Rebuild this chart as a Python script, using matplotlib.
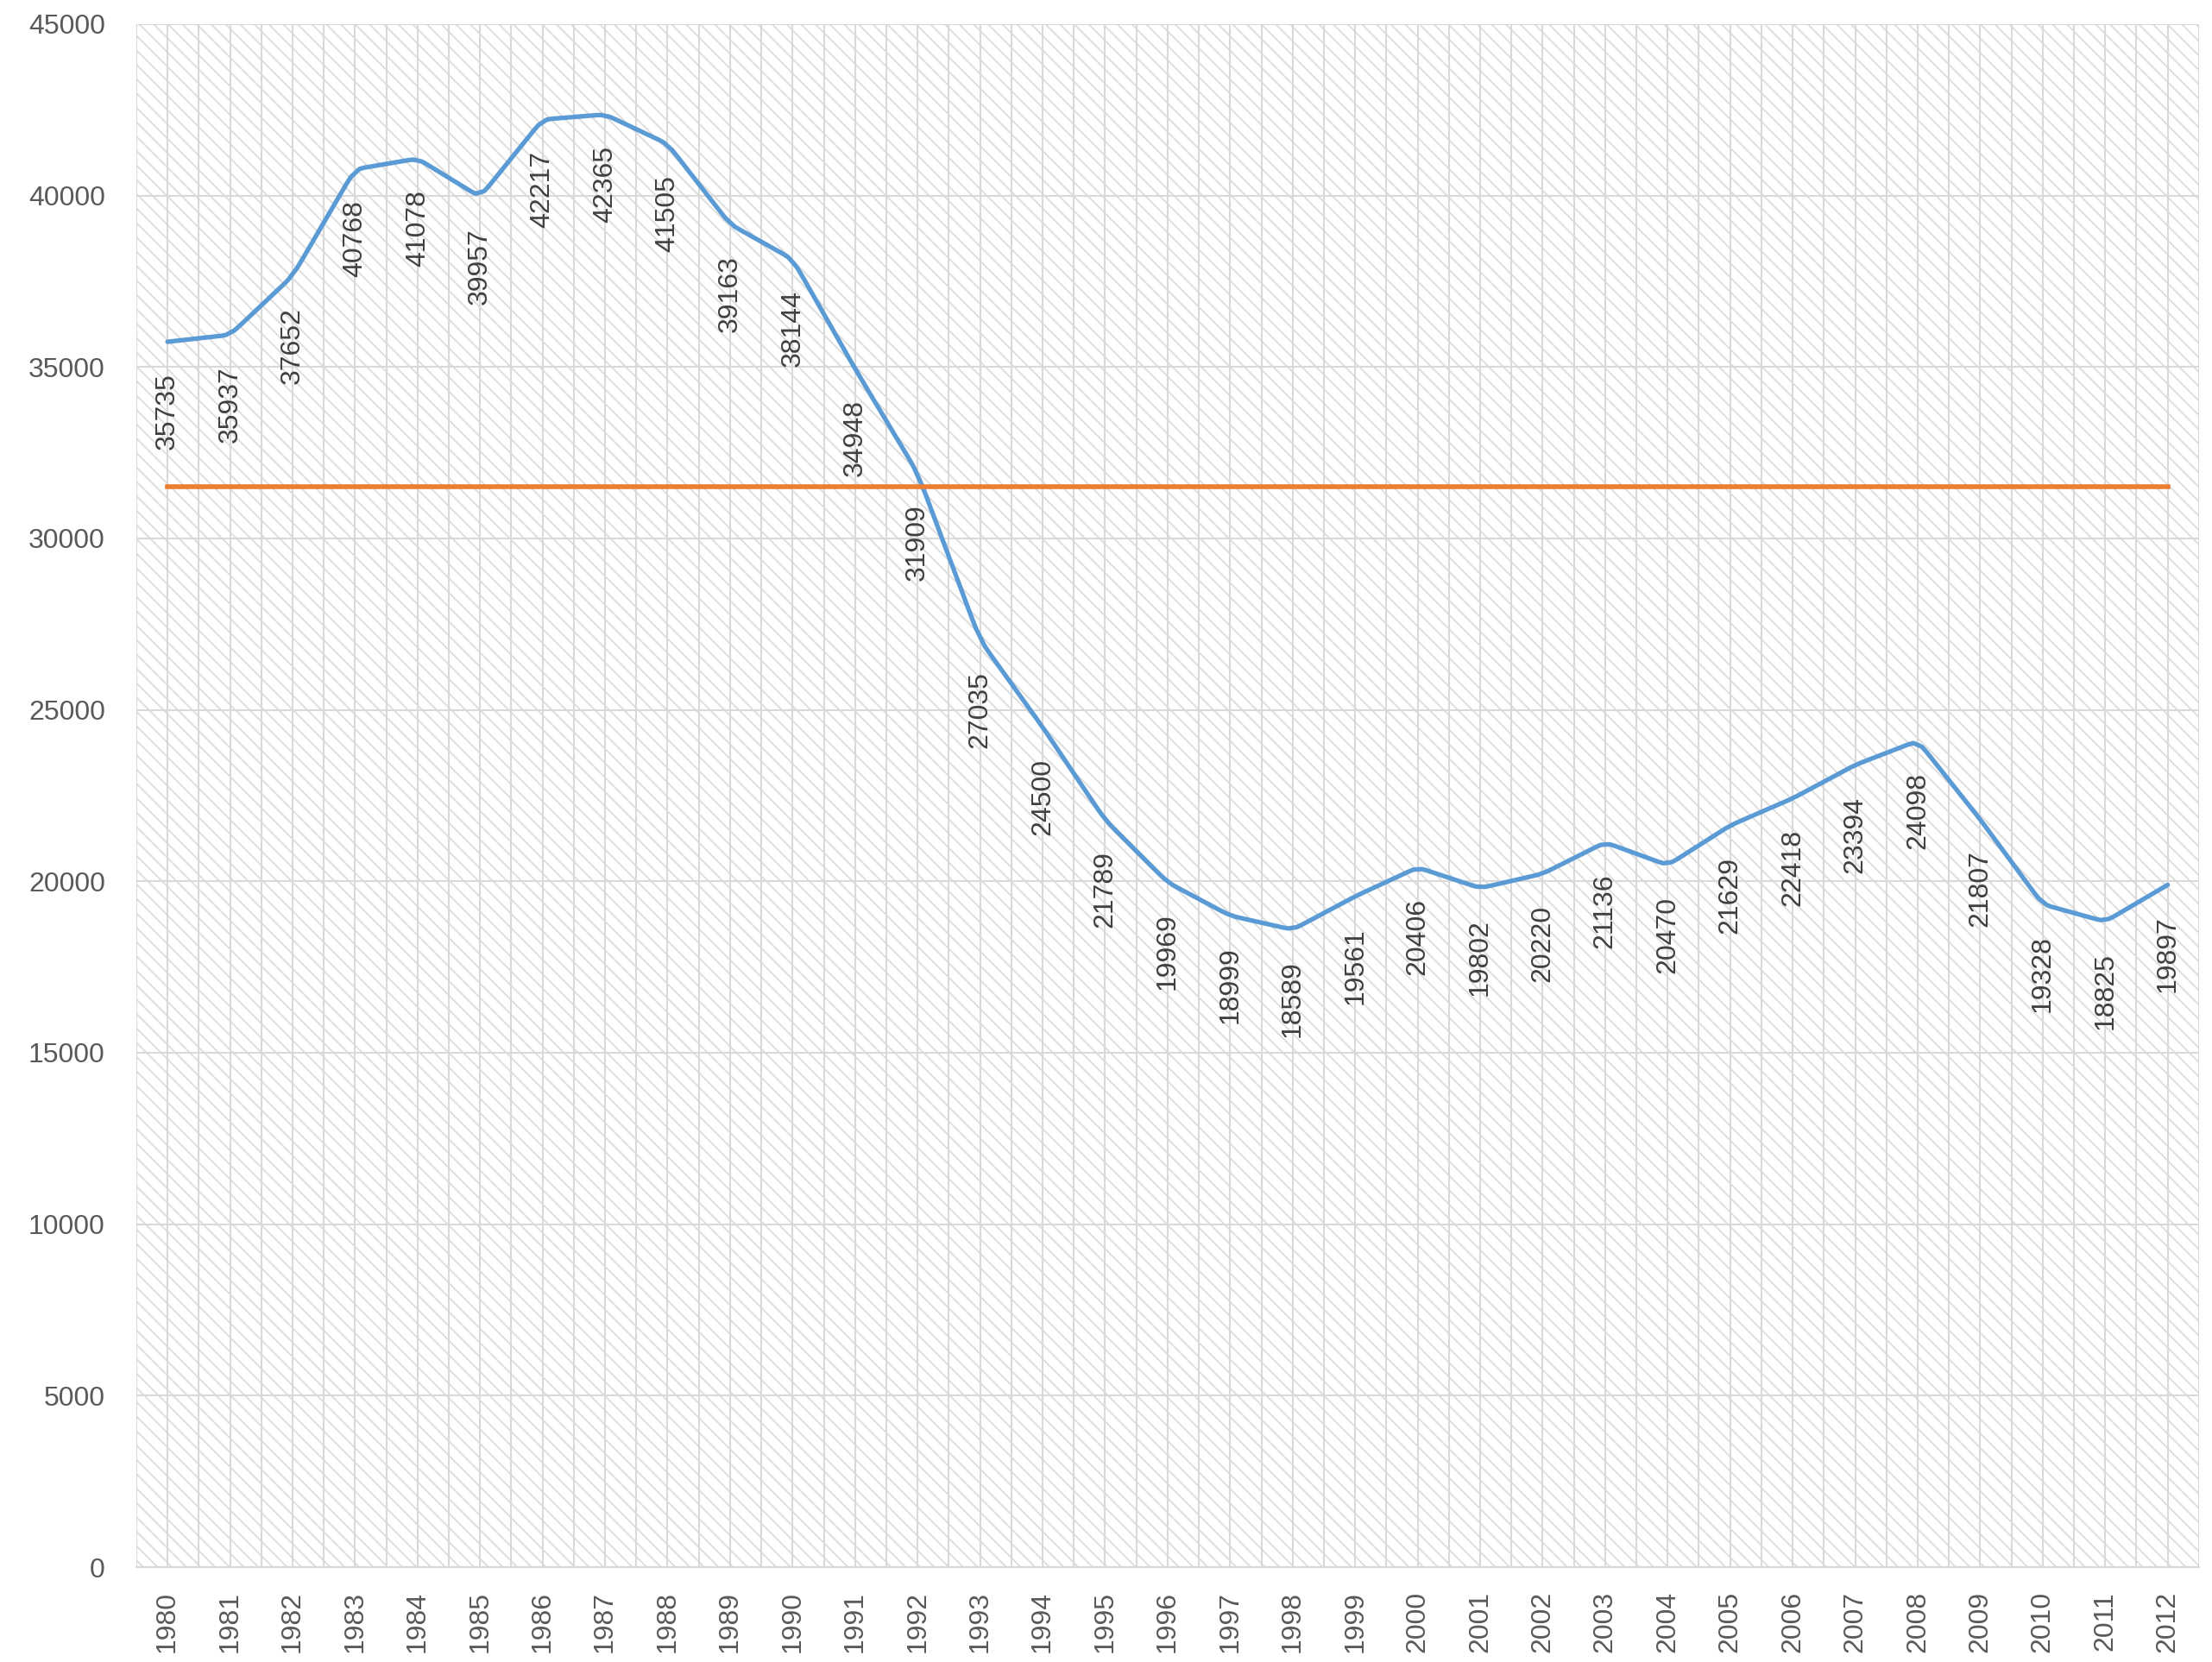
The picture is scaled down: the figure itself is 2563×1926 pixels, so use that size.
import numpy as np
import matplotlib.pyplot as plt
from matplotlib.patches import Rectangle

# data
years = list(range(1980, 2013))
values = [35735, 35937, 37652, 40768, 41078, 39957, 42217, 42365, 41505, 39163,
          38144, 34948, 31909, 27035, 24500, 21789, 19969, 18999, 18589, 19561,
          20406, 19802, 20220, 21136, 20470, 21629, 22418, 23394, 24098, 21807,
          19328, 18825, 19897]
reference = [31500] * len(years)
y_ticks = [0, 5000, 10000, 15000, 20000, 25000, 30000, 35000, 40000, 45000]

blue = '#5B9BD5'
orange = '#ED7D31'
grid_col = '#d9d9d9'
tick_col = '#595959'
label_col = '#404040'

plt.rcParams['font.family'] = ['Liberation Sans', 'DejaVu Sans']
plt.rcParams['hatch.linewidth'] = 1.3


def round_corners(x, y, r=0.08, iters=3):
    # Chaikin corner cutting: straight runs, slightly rounded corners
    pts = np.column_stack([x, y]).astype(float)
    for _ in range(iters):
        a, b = pts[:-1], pts[1:]
        q = (1 - r) * a + r * b
        s = r * a + (1 - r) * b
        mid = np.empty((2 * len(a), 2))
        mid[0::2] = q
        mid[1::2] = s
        pts = np.vstack([pts[:1], mid[1:-1], pts[-1:]])
    return pts[:, 0], pts[:, 1]


fig = plt.figure(figsize=(25.63, 19.26), dpi=100)
ax = fig.add_axes([0.0616, 0.0571, 0.9325, 0.9284])

x = np.arange(len(years))
ax.set_xlim(-0.5, len(years) - 0.5)
ax.set_ylim(0, 45000)

# hatched plot area
ax.add_patch(Rectangle((0, 0), 1, 1, transform=ax.transAxes, facecolor='white',
                       edgecolor='#dcdcdc', linewidth=0, hatch='\\\\', zorder=0))

ax.set_xticks(x)
ax.set_xticks(np.arange(-0.5, len(years)), minor=True)
ax.set_xticklabels([str(y) for y in years], rotation=90)
ax.set_yticks(y_ticks)
ax.grid(True, which='both', axis='x', color=grid_col, lw=1.5, zorder=1)
ax.grid(True, which='major', axis='y', color=grid_col, lw=1.5, zorder=1)
ax.set_axisbelow(True)
ax.tick_params(axis='both', which='both', length=0, labelsize=23, colors=tick_col)
ax.tick_params(axis='x', pad=20)
ax.tick_params(axis='y', pad=26)
for s in ['left', 'right', 'top']:
    ax.spines[s].set_visible(False)
ax.spines['bottom'].set_color(grid_col)
ax.spines['bottom'].set_linewidth(1.5)

sx, sy = round_corners(x, values)
ax.plot(sx, sy, color=blue, lw=3.8, zorder=3, solid_capstyle='round')
ax.plot(x, reference, color=orange, lw=4.0, zorder=3)

for xi, v in zip(x, values):
    ax.annotate(str(v), (xi, v), xytext=(0, -26), textcoords='offset points',
                rotation=90, ha='center', va='top', fontsize=23, color=label_col,
                zorder=4)

fig.savefig('out.png', dpi=100)
